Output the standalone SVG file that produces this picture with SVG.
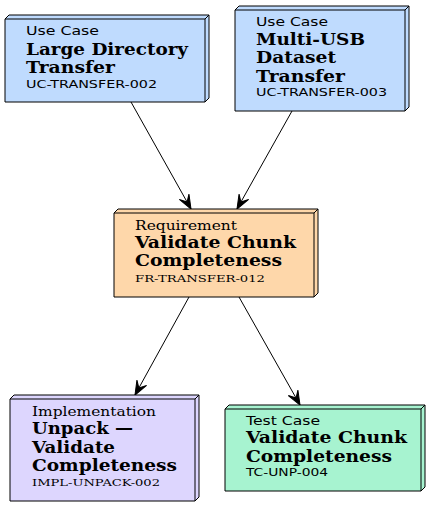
<svg xmlns="http://www.w3.org/2000/svg" width="431" height="507" viewBox="0 0 431 507">
<defs>
<style>
.box{stroke:#000;stroke-width:1;stroke-linejoin:miter}
.edge{stroke:#000;stroke-width:1;fill:none}
.ty{font-family:"DejaVu Sans","Liberation Sans",sans-serif;font-size:13px;fill:#000}
.tys{font-family:"DejaVu Serif","Liberation Serif",serif;font-size:13px;fill:#000}
.tt{font-family:"DejaVu Serif","Liberation Serif",serif;font-size:16px;font-weight:bold;fill:#000}
.id{font-family:"DejaVu Sans","Liberation Sans",sans-serif;font-size:10px;fill:#000}
.ids{font-family:"DejaVu Serif","Liberation Serif",serif;font-size:10px;fill:#000}
.uc{fill:#bfdbfe}.rq{fill:#fed7aa}.im{fill:#ddd6fe}.tc{fill:#a7f3d0}
</style>
<marker id="vee" viewBox="-15 -7 16 14" refX="0" refY="0" markerWidth="16" markerHeight="14" markerUnits="userSpaceOnUse" orient="auto">
<path d="M0,0 L-14,-5.5 L-8,0 L-14,5.5 Z" fill="#000" stroke="#000" stroke-width="1"/>
</marker>
</defs>
<g id="edges">
<path class="edge" d="M131,102 L191,209" marker-end="url(#vee)"/>
<path class="edge" d="M292,111 L237,209" marker-end="url(#vee)"/>
<path class="edge" d="M189,297 L135,395" marker-end="url(#vee)"/>
<path class="edge" d="M239,297 L300,405" marker-end="url(#vee)"/>
</g>
<g id="uc002">
<path class="box uc" d="M5,19 L9,15 L209,15 L209,98 L205,102 L5,102 Z"/>
<path class="edge" d="M5,19 L205,19 L209,15 M205,19 L205,102"/>
<text class="ty" x="26" y="35" textLength="73" lengthAdjust="spacingAndGlyphs">Use Case</text>
<text class="tt" x="26" y="55" textLength="162" lengthAdjust="spacingAndGlyphs">Large Directory</text>
<text class="tt" x="26" y="73" textLength="89" lengthAdjust="spacingAndGlyphs">Transfer</text>
<text class="id" x="26" y="88" textLength="131" lengthAdjust="spacingAndGlyphs">UC-TRANSFER-002</text>
</g>
<g id="uc003">
<path class="box uc" d="M235,10 L239,6 L409,6 L409,107 L405,111 L235,111 Z"/>
<path class="edge" d="M235,10 L405,10 L409,6 M405,10 L405,111"/>
<text class="ty" x="256" y="26" textLength="72" lengthAdjust="spacingAndGlyphs">Use Case</text>
<text class="tt" x="256" y="45" textLength="109" lengthAdjust="spacingAndGlyphs">Multi-USB</text>
<text class="tt" x="256" y="63" textLength="80" lengthAdjust="spacingAndGlyphs">Dataset</text>
<text class="tt" x="256" y="82" textLength="89" lengthAdjust="spacingAndGlyphs">Transfer</text>
<text class="id" x="256" y="96" textLength="131" lengthAdjust="spacingAndGlyphs">UC-TRANSFER-003</text>
</g>
<g id="fr012">
<path class="box rq" d="M114,213 L118,209 L318,209 L318,293 L314,297 L114,297 Z"/>
<path class="edge" d="M114,213 L314,213 L318,209 M314,213 L314,297"/>
<text class="tys" x="135" y="230" textLength="102" lengthAdjust="spacingAndGlyphs">Requirement</text>
<text class="tt" x="135" y="248" textLength="161" lengthAdjust="spacingAndGlyphs">Validate Chunk</text>
<text class="tt" x="135" y="266" textLength="147" lengthAdjust="spacingAndGlyphs">Completeness</text>
<text class="ids" x="135" y="282" textLength="130" lengthAdjust="spacingAndGlyphs">FR-TRANSFER-012</text>
</g>
<g id="impl002">
<path class="box im" d="M10,399 L14,395 L199,395 L199,497 L195,501 L10,501 Z"/>
<path class="edge" d="M10,399 L195,399 L199,395 M195,399 L195,501"/>
<text class="tys" x="32" y="416" textLength="124" lengthAdjust="spacingAndGlyphs">Implementation</text>
<text class="tt" x="32" y="434" textLength="101" lengthAdjust="spacingAndGlyphs">Unpack —</text>
<text class="tt" x="32" y="453" textLength="83" lengthAdjust="spacingAndGlyphs">Validate</text>
<text class="tt" x="32" y="471" textLength="145" lengthAdjust="spacingAndGlyphs">Completeness</text>
<text class="ids" x="32" y="486" textLength="128" lengthAdjust="spacingAndGlyphs">IMPL-UNPACK-002</text>
</g>
<g id="tc004">
<path class="box tc" d="M225,409 L229,405 L425,405 L425,487 L421,491 L225,491 Z"/>
<path class="edge" d="M225,409 L421,409 L425,405 M421,409 L421,491"/>
<text class="ty" x="246" y="425" textLength="74" lengthAdjust="spacingAndGlyphs">Test Case</text>
<text class="tt" x="246" y="443" textLength="161" lengthAdjust="spacingAndGlyphs">Validate Chunk</text>
<text class="tt" x="246" y="462" textLength="146" lengthAdjust="spacingAndGlyphs">Completeness</text>
<text class="id" x="246" y="476" textLength="82" lengthAdjust="spacingAndGlyphs">TC-UNP-004</text>
</g>
</svg>
